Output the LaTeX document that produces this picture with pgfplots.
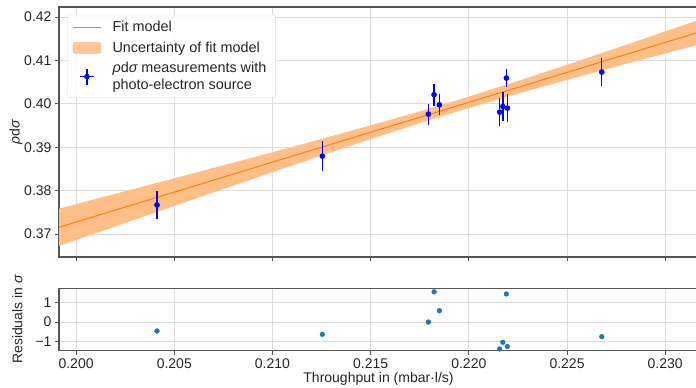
\documentclass[border=0pt]{standalone}
\usepackage{pgfplots}
\pgfplotsset{compat=1.18}
\usepackage{fontspec}
\setmainfont{Liberation Sans}
\definecolor{fitorange}{HTML}{FF7F0E}
\definecolor{bandorange}{HTML}{FFBF86}
\definecolor{resblue}{HTML}{1F77B4}
\definecolor{gridgray}{HTML}{DCDCDC}
\definecolor{spine}{HTML}{555555}
\definecolor{labgray}{HTML}{262626}
\definecolor{pureblue}{RGB}{0,0,255}
\begin{document}
\begin{tikzpicture}[font=\fontsize{14pt}{16pt}\selectfont]
\path[use as bounding box] (0pt,0pt) rectangle (696pt,388pt);
\pgfplotsset{
  mystyle/.style={
    scale only axis,
    xmin=0.19913, xmax=0.23167,
    xtick={0.200,0.205,0.210,0.215,0.220,0.225,0.230},
    grid=major,
    major grid style={gridgray, line width=0.8pt},
    axis line style={spine, line width=1.1pt},
    tick style={spine, line width=0.9pt},
    tick align=outside,
    major tick length=4pt,
    xtick pos=bottom, ytick pos=left,
    tick label style={font=\fontsize{14pt}{16pt}\selectfont, text=labgray},
    label style={font=\fontsize{14pt}{16pt}\selectfont, text=labgray},
    /pgf/number format/assume math mode=true,
    xticklabel style={/pgf/number format/.cd, fixed, fixed zerofill, precision=3},
  }
}
\begin{axis}[mystyle,
  at={(59pt,131pt)}, anchor=south west,
  width=639pt, height=250pt,
  ymin=0.3647, ymax=0.4223,
  ytick={0.37,0.38,0.39,0.40,0.41,0.42},
  yticklabel style={/pgf/number format/.cd, fixed, fixed zerofill, precision=2},
  xticklabels={},
  ylabel={{\itshape ρ}d{\itshape σ}},
  ylabel style={at={(axis description cs:0,0.5)}, anchor=south, yshift=33pt},
  legend style={at={(axis cs:0.19954,0.4205)}, anchor=north west,
    draw=gridgray, fill=white, fill opacity=0.85, text opacity=1, rounded corners=2pt,
    font=\fontsize{14.4pt}{16.5pt}\selectfont, text=labgray,
    cells={align=left}, row sep=4.5pt, column sep=7pt, inner xsep=5pt, inner ysep=4.5pt,
    nodes={inner xsep=4pt}},
  legend cell align=left,
  unbounded coords=jump,
]
% uncertainty band
\addplot[fill=bandorange, draw=none, forget plot] coordinates {
 (0.199,0.37569) (0.202,0.37926) (0.205,0.38283) (0.208,0.38643) (0.211,0.39005)
 (0.214,0.39375) (0.217,0.39758) (0.2193,0.40067) (0.222,0.40451) (0.225,0.40898)
 (0.228,0.41357) (0.231,0.41822) (0.232,0.41978)
 (0.232,0.41400) (0.231,0.41280) (0.228,0.40919) (0.225,0.40550) (0.222,0.40169)
 (0.2193,0.39807) (0.217,0.39482) (0.214,0.39037) (0.211,0.38579) (0.208,0.38115)
 (0.205,0.37647) (0.202,0.37177) (0.199,0.36705)
} -- cycle;
% fit line
\addplot[fitorange, line width=1pt, forget plot] coordinates {
 (0.199,0.37137) (0.232,0.41689)
};
\addlegendimage{draw=fitorange, line width=1.3pt,
  legend image code/.code={\draw[draw=fitorange, line width=1.3pt] (0pt,0pt) -- (28pt,0pt);}}
\addlegendentry{Fit model}
\addlegendimage{legend image code/.code={\fill[bandorange] (0pt,-5.5pt) rectangle (28pt,5.5pt);}}
\addlegendentry{Uncertainty of fit model}
% error bars (value +- uncertainty)
\addplot[draw=pureblue, line width=1.4pt, no markers, forget plot] coordinates {
 (0.20412,0.37340) (0.20412,0.38000) (0.20412,nan)
 (0.21254,0.38453) (0.21254,0.39133) (0.21254,nan)
 (0.21794,0.39522) (0.21794,0.40002) (0.21794,nan)
 (0.21823,0.39958) (0.21823,0.40458) (0.21823,nan)
 (0.21850,0.39737) (0.21850,0.40217) (0.21850,nan)
 (0.22157,0.39478) (0.22157,0.40138) (0.22157,nan)
 (0.22173,0.39608) (0.22173,0.40268) (0.22173,nan)
 (0.22191,0.40393) (0.22191,0.40793) (0.22191,nan)
 (0.22196,0.39570) (0.22196,0.40230) (0.22196,nan)
 (0.22677,0.40401) (0.22677,0.41061)
};
\addplot[only marks, mark=*, pureblue, mark size=2.6pt,
  legend image code/.code={
    \draw[draw=pureblue, line width=1.3pt] (14pt,-8pt) -- (14pt,8pt);
    \draw[draw=pureblue, line width=1.3pt] (7pt,0pt) -- (21pt,0pt);
    \fill[pureblue] (14pt,0pt) circle (2.6pt);},
  ] coordinates {
 (0.20412,0.37670) (0.21254,0.38793) (0.21794,0.39762) (0.21823,0.40208)
 (0.21850,0.39977) (0.22157,0.39808) (0.22173,0.39938) (0.22191,0.40593)
 (0.22196,0.39900) (0.22677,0.40731)
};
\addlegendentry{{\itshape ρ}d{\itshape σ} measurements with\\photo-electron source}
\end{axis}
\begin{axis}[mystyle,
  at={(59pt,37.3pt)}, anchor=south west,
  width=639pt, height=62.4pt,
  ymin=-1.47, ymax=1.73,
  ytick={-1,0,1},
  yticklabels={−1,0,1},
  ylabel={Residuals in {\itshape σ}},
  ylabel style={at={(axis description cs:0,0.5)}, anchor=south, yshift=33pt},
  xlabel={Throughput in (mbar·l/s)},
  xlabel style={yshift=3pt},
  clip=false,
]
\addplot[only marks, mark=*, resblue, mark size=2.4pt] coordinates {
 (0.20412,-0.46) (0.21254,-0.63) (0.21794,0.00) (0.21823,1.55) (0.21850,0.58)
 (0.22157,-1.38) (0.22173,-1.04) (0.22191,1.44) (0.22196,-1.25) (0.22677,-0.75)
};
\end{axis}
\end{tikzpicture}
\end{document}
